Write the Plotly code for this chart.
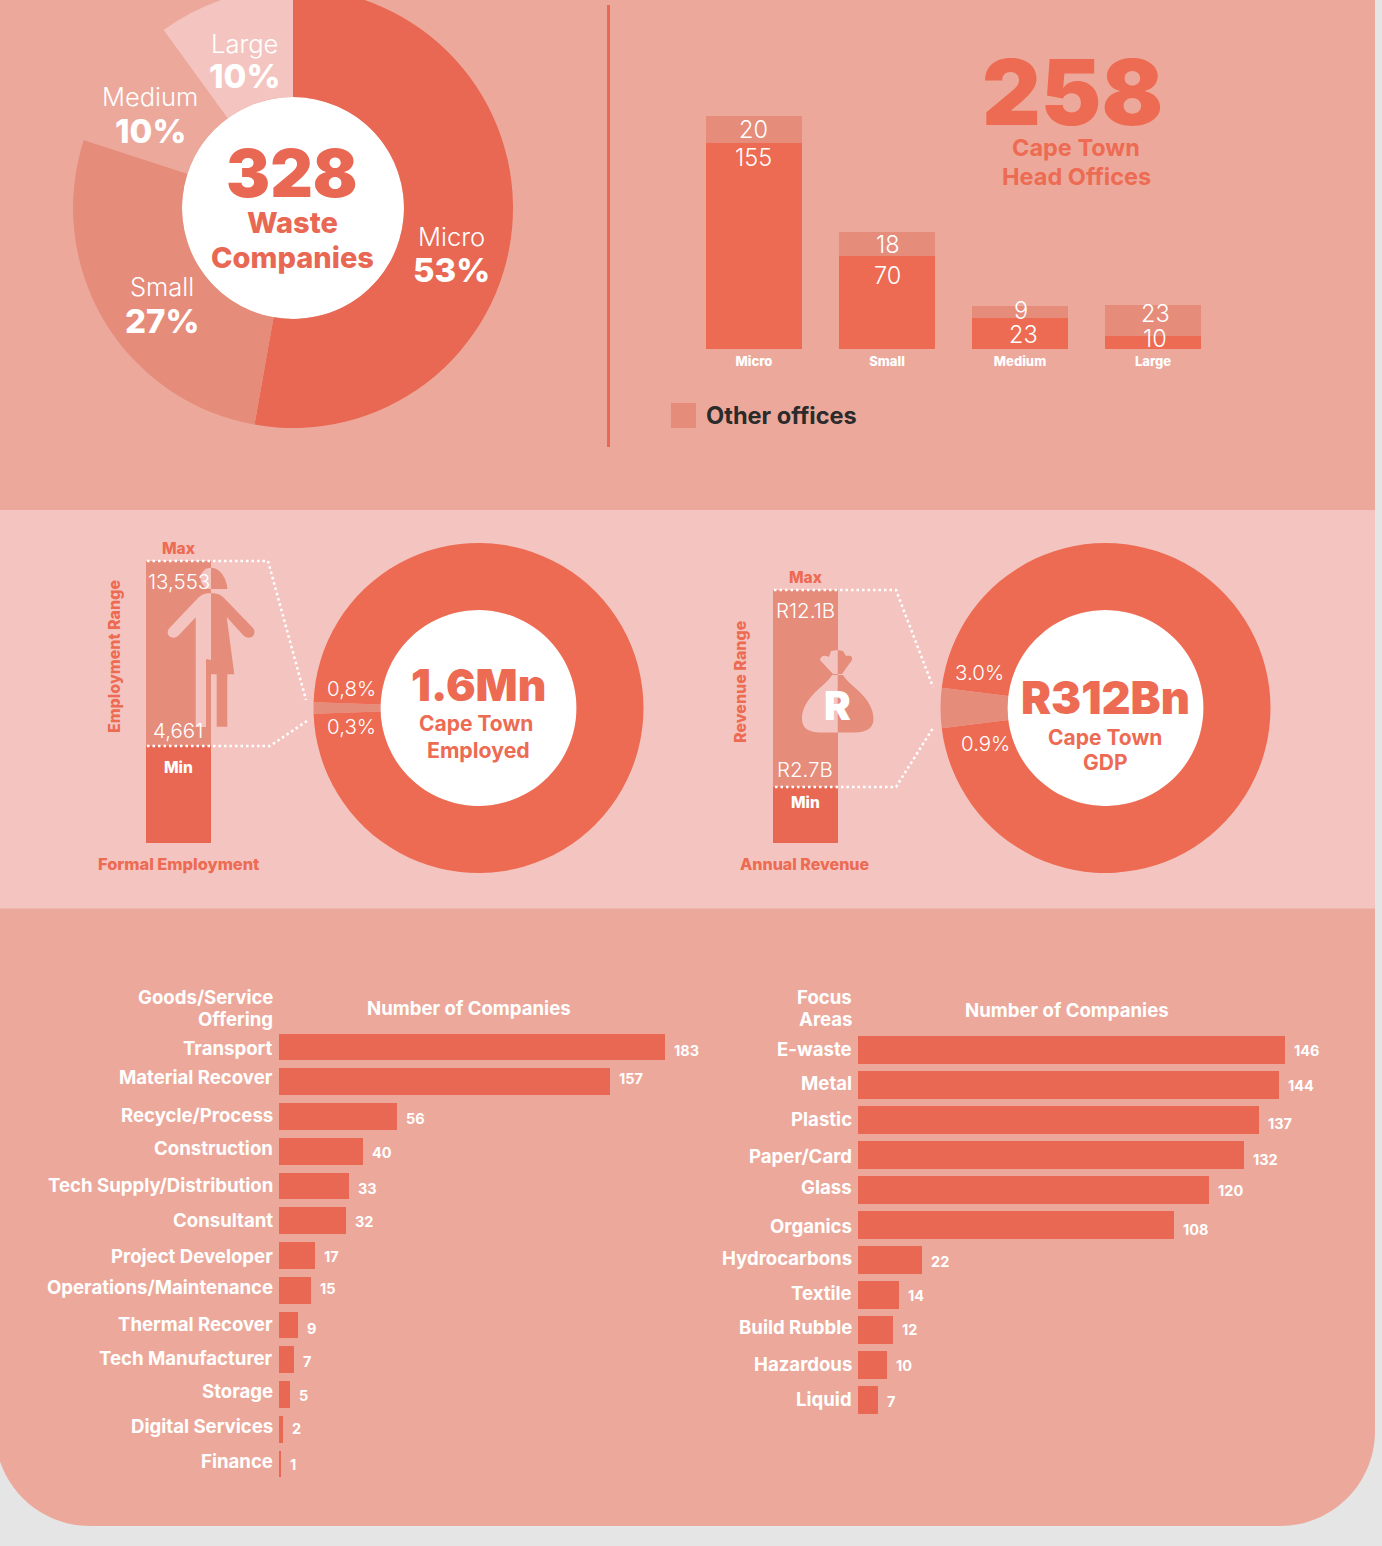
import re
import plotly.graph_objects as go

W, H0, EXTRA = 1382, 1546, 20
H = H0 + EXTRA

# ---------- data ----------
size_labels = ["Micro", "Small", "Medium", "Large"]
size_share = [52.8, 27.2, 10, 10]
total_companies = "328"

head_offices = [155, 70, 23, 10]
other_offices = [20, 18, 9, 23]
head_office_total = "258"

employment_min = 4661
employment_max = 13553
employment_share_min = 0.3
employment_share_max = 0.8
revenue_min = 2.7
revenue_max = 12.1
revenue_share_min = 0.9
revenue_share_max = 3.0

offering_labels = ["Transport", "Material Recover", "Recycle/Process", "Construction",
                   "Tech Supply/Distribution", "Consultant", "Project Developer",
                   "Operations/Maintenance", "Thermal Recover", "Tech Manufacturer",
                   "Storage", "Digital Services", "Finance"]
offering_values = [183, 157, 56, 40, 33, 32, 17, 15, 9, 7, 5, 2, 1]
focus_labels = ["E-waste", "Metal", "Plastic", "Paper/Card", "Glass", "Organics",
                "Hydrocarbons", "Textile", "Build Rubble", "Hazardous", "Liquid"]
focus_values = [146, 144, 137, 132, 120, 108, 22, 14, 12, 10, 7]

# hand-placed label nudges of the original layout, in pixels (positive = down)
offering_value_nudge = [3, -3, 1.5, 1, 2, 1, 0.5, -2, 3, 2, 0.5, -1, 0]
offering_label_nudge = [1, -4.5, -1.5, -3, -1, -0.5, 0.5, -3, -1, -1.5, -3.5, -3, -3]
focus_value_nudge = [0, 0, 3, 4, 0, 4, 1, 0, -1, 0, 1]
focus_label_nudge = [-1, -2, -1, 1, -3, 1, -2, -2, -3, -1, -1]

# ---------- style ----------
GREY = "#E5E5E5"
PANEL = "#ECA99B"
BAND = "#F4C5C0"
CORAL = "#ED6B52"
DARK = "#E86853"
MID = "#E68C7B"
WHITE = "#FFFFFF"
FONT = "Inter"


def fx(x):
    return x / W


def fy(y):
    return 1 - (y + EXTRA) / H


def path(s):
    """Pixel-space SVG path to paper-space."""
    toks = re.findall(r"[MLQCZ]|-?\d+\.?\d*", s)
    out, isx = [], True
    for t in toks:
        if t in "MLQCZ":
            out.append(t)
            isx = True
        else:
            out.append(f"{fx(float(t)):.5f}" if isx else f"{fy(float(t)):.5f}")
            isx = not isx
    return " ".join(out)


shapes, notes = [], []


def fill(s, color, layer="below"):
    shapes.append(dict(type="path", path=path(s), xref="paper", yref="paper",
                       fillcolor=color, line=dict(width=0), layer=layer))


def circle(cx, cy, r, color, layer="below"):
    shapes.append(dict(type="circle", xref="paper", yref="paper", x0=fx(cx - r), x1=fx(cx + r),
                       y0=fy(cy + r), y1=fy(cy - r), fillcolor=color, line=dict(width=0), layer=layer))


def rect(x0, y0, x1, y1, color, layer="below"):
    shapes.append(dict(type="rect", xref="paper", yref="paper", x0=fx(x0), x1=fx(x1),
                       y0=fy(y1), y1=fy(y0), fillcolor=color, line=dict(width=0), layer=layer))


def dotted(s):
    shapes.append(dict(type="path", path=path(s), xref="paper", yref="paper",
                       line=dict(color=WHITE, width=2.5, dash="2.5px,3px"), layer="above"))


def T(x, y, text, size, color=WHITE, weight=400, anchor="center", angle=0):
    notes.append(dict(x=fx(x), y=fy(y), xref="paper", yref="paper", text=text, showarrow=False,
                      xanchor=anchor, yanchor="middle", borderpad=0, borderwidth=0, textangle=angle,
                      font=dict(family=FONT, size=size, color=color, weight=weight)))


# ---------- panels ----------
k = 0.5523 * 95
fill(f"M -5 -30 L 1375 -30 L 1375 1431 C 1375 {1431 + k} {1280 + k} 1526 1280 1526 "
     f"L 90 1526 C {90 - k} 1526 -5 {1431 + k} -5 1431 Z", PANEL)
rect(0, 510, 1375, 908.5, BAND)
rect(607, 5, 610, 447, DARK)
circle(293, 208, 111, WHITE)
circle(478.5, 708, 98, WHITE)
circle(1105.5, 708, 98, WHITE)

traces = []


def domx(a, b):
    return [fx(a), fx(b)]


def domy(bottom, top):
    return [fy(bottom), fy(top)]


# ---------- pies ----------
traces.append(go.Pie(labels=size_labels, values=size_share, sort=False, direction="clockwise",
                     rotation=0, hole=111 / 220, textinfo="none", hoverinfo="label+percent",
                     marker=dict(colors=[DARK, MID, PANEL, BAND], line=dict(width=0)),
                     domain=dict(x=domx(73, 513), y=domy(428, -12)), showlegend=False))


def share_pie(lo, hi, cx, name):
    rng = lo + hi
    return go.Pie(labels=[name, "Rest"], values=[rng, 100 - rng], sort=False, direction="clockwise",
                  rotation=270 - rng * 3.6 / 2, hole=98 / 165, textinfo="none",
                  marker=dict(colors=[MID, CORAL], line=dict(width=0)),
                  domain=dict(x=domx(cx - 165, cx + 165), y=domy(873, 543)), showlegend=False)


traces.append(share_pie(employment_share_min, employment_share_max, 478.5, "Waste employment"))
traces.append(share_pie(revenue_share_min, revenue_share_max, 1105.5, "Waste revenue"))

# ---------- head-office stacked bars ----------
traces.append(go.Bar(x=size_labels, y=head_offices, name="Head offices", width=96 / 133,
                     marker=dict(color=CORAL, line=dict(width=0)), xaxis="x", yaxis="y", showlegend=False))
traces.append(go.Bar(x=size_labels, y=other_offices, name="Other offices", width=96 / 133,
                     marker=dict(color=MID, line=dict(width=0)), xaxis="x", yaxis="y", showlegend=False))

# ---------- range bars ----------
traces.append(go.Bar(x=["Formal Employment"], y=[employment_min], width=1, marker=dict(color=DARK, line=dict(width=0)),
                     xaxis="x2", yaxis="y2", showlegend=False))
traces.append(go.Bar(x=["Formal Employment"], y=[employment_max - employment_min], width=1,
                     marker=dict(color=MID, line=dict(width=0)), xaxis="x2", yaxis="y2", showlegend=False))
traces.append(go.Bar(x=["Annual Revenue"], y=[revenue_min], width=1, marker=dict(color=DARK, line=dict(width=0)),
                     xaxis="x3", yaxis="y3", showlegend=False))
traces.append(go.Bar(x=["Annual Revenue"], y=[revenue_max - revenue_min], width=1,
                     marker=dict(color=MID, line=dict(width=0)), xaxis="x3", yaxis="y3", showlegend=False))

# ---------- horizontal bars ----------
traces.append(go.Bar(y=offering_labels, x=offering_values, orientation="h", width=0.77,
                     marker=dict(color=DARK, line=dict(width=0)), xaxis="x4", yaxis="y4", showlegend=False))
traces.append(go.Bar(y=focus_labels, x=focus_values, orientation="h", width=0.8,
                     marker=dict(color=DARK, line=dict(width=0)), xaxis="x5", yaxis="y5", showlegend=False))

for cats, vals, xa, ya, vn, ln in [
        (offering_labels, offering_values, "x4", "y4", offering_value_nudge, offering_label_nudge),
        (focus_labels, focus_values, "x5", "y5", focus_value_nudge, focus_label_nudge)]:
    for c, v, dv, dl in zip(cats, vals, vn, ln):
        notes.append(dict(x=v, y=c, xref=xa, yref=ya, text=str(v), showarrow=False, xanchor="left",
                          yanchor="middle", xshift=7, yshift=-dv,
                          font=dict(family=FONT, size=14.5, color=WHITE, weight=700)))
        notes.append(dict(x=0, y=c, xref=xa, yref=ya, text=c, showarrow=False, xanchor="right",
                          yanchor="middle", xshift=-4, yshift=-dl,
                          font=dict(family=FONT, size=18.6, color=WHITE, weight=700)))

# ---------- person icon ----------
fill("M 211 567.7 C 205 567.7 200.5 572.5 200.5 578.5 C 200.5 584 205 588.5 211 589 Z", BAND, "above")
fill("M 211 567.7 C 221 567.7 227 580 227.3 589 L 211 589 Z", MID)
fill("M 211 593.3 C 204 593.3 201 595 198 598 L 169.5 628 C 166 632 168 637 172 637.5 "
     "C 175 638 177 637 179 635 L 195.7 617.3 L 195.7 727 L 206 727 L 206 660 C 206 658 208 660 211 660 Z", BAND, "above")
fill("M 211 593.3 C 218 593.3 221 595 224 598 L 253 628 C 256 632 254 637 250 637.5 "
     "C 247 638 245 637 243 635 L 226.7 617 L 234.3 674.3 L 227.3 674.3 L 227.3 726.7 L 216.7 726.7 "
     "L 216.7 674.3 L 211 674.3 Z", MID)

# ---------- money bag icon ----------
fill("M 837.7 675 L 832 675 C 826 686 802 697 802 719 C 802 729 810 732.5 820 732.5 L 837.7 732.5 Z", BAND, "above")
fill("M 837.7 675 L 843 675 C 849 686 873.5 697 873.5 719 C 873.5 729 865 732.5 855 732.5 L 837.7 732.5 Z", MID)
fill("M 837.7 674 L 833 674 L 820 660 C 821 655 825 655 829 657 L 831 651 L 837.7 650 Z", BAND, "above")
fill("M 837.7 674 L 842 674 L 852 660 C 853 656 850 655 846 656 L 843 651 L 837.7 650 Z", MID)

# ---------- dotted connectors ----------
dotted("M 147 561 L 268 561 L 306 700")
dotted("M 147 746 L 270 746 L 307 721")
dotted("M 774 590 L 896 590 L 933 687")
dotted("M 775 787 L 896 787 L 933 728")

# ---------- pie texts ----------
pie_label_pos = {"Micro": (451, 237, 270), "Small": (162, 287, 321), "Medium": (150, 97, 131), "Large": (244, 43, 76)}
for lab, share in zip(size_labels, size_share):
    x, y1, y2 = pie_label_pos[lab]
    T(x, y1, lab, 25.5, weight=300)
    T(x, y2, f"{round(share)}%", 33, weight=800)
T(292, 173, total_companies, 66, DARK, 900)
T(292, 223, "Waste", 29, DARK, 800)
T(292, 258, "Companies", 29, DARK, 800)

# ---------- head office texts ----------
T(1072, 92, head_office_total, 91, CORAL, 900)
T(1076, 147.5, "Cape Town", 23.5, CORAL, 700)
T(1076, 177, "Head Offices", 23.5, CORAL, 700)
head_label_px = [(754, 157.5), (887.5, 275), (1023, 334.5), (1154.5, 338)]
other_label_px = [(753, 129.5), (887.5, 245), (1021, 311), (1155, 313)]
for v, (x, y) in zip(head_offices, head_label_px):
    T(x, y, str(v), 23.5, weight=300)
for v, (x, y) in zip(other_offices, other_label_px):
    T(x, y, str(v), 23.5, weight=300)
rect(671, 403, 696, 428, MID)
T(706, 416, "Other offices", 23.6, "#2B2B2B", 700, anchor="left")

# ---------- employment texts ----------
T(178, 548, "Max", 15.5, CORAL, 800)
T(179, 581, f"{employment_max:,}", 20.5, weight=300)
T(178, 730, f"{employment_min:,}", 20.5, weight=300)
T(178, 767, "Min", 15.5, WHITE, 800)
T(114, 657, "Employment Range", 16, CORAL, 800, angle=-90)
T(178, 864, "Formal Employment", 16.4, CORAL, 800)
T(351, 688.5, f"{employment_share_max}%".replace(".", ","), 20.5, weight=300)
T(351, 726.5, f"{employment_share_min}%".replace(".", ","), 20.5, weight=300)
T(478, 684.5, "1.6Mn", 44, CORAL, 900)
T(476, 723.5, "Cape Town", 21, CORAL, 700)
T(478, 749.5, "Employed", 21.3, CORAL, 700)

# ---------- revenue texts ----------
T(805, 577, "Max", 15.5, CORAL, 800)
T(805, 611, f"R{revenue_max}B", 20.5, weight=300)
T(805, 769.5, f"R{revenue_min}B", 20.5, weight=300)
T(805, 802, "Min", 15.5, WHITE, 800)
T(740, 682, "Revenue Range", 16, CORAL, 800, angle=-90)
T(805, 864, "Annual Revenue", 16, CORAL, 800)
T(979.5, 673, f"{revenue_share_max:.1f}%", 20.5, weight=300)
T(985, 743, f"{revenue_share_min}%", 20.5, weight=300)
T(1105, 698, "R312Bn", 45, CORAL, 900)
T(1105, 737.5, "Cape Town", 21, CORAL, 700)
T(1105, 762.5, "GDP", 21, CORAL, 700)
T(837.5, 705, "R", 40, WHITE, 900)

# ---------- lower chart headings ----------
T(273, 997, "Goods/Service", 18.6, WHITE, 700, anchor="right")
T(273, 1019, "Offering", 18.6, WHITE, 700, anchor="right")
T(469, 1008, "Number of Companies", 18.6, WHITE, 700)
T(852, 997, "Focus", 18.6, WHITE, 700, anchor="right")
T(852, 1019, "Areas", 18.6, WHITE, 700, anchor="right")
T(1067, 1010, "Number of Companies", 18.6, WHITE, 700)

hidden = dict(visible=False, fixedrange=True)
layout = dict(
    width=W, height=H, autosize=False,
    margin=dict(l=0, r=0, t=0, b=0, pad=0),
    paper_bgcolor=GREY, plot_bgcolor="rgba(0,0,0,0)",
    barmode="stack", font=dict(family=FONT, color=WHITE),
    shapes=shapes, annotations=notes, showlegend=False,
    xaxis=dict(domain=domx(687.5, 1219.5), anchor="y", range=[-0.5, 3.5], showgrid=False, zeroline=False,
               showline=False, ticks="", ticklabelstandoff=3,
               tickfont=dict(family=FONT, size=13, color=WHITE, weight=800)),
    yaxis=dict(domain=domy(349, 83), anchor="x", range=[0, 200], **hidden),
    xaxis2=dict(domain=domx(146, 211), anchor="y2", range=[-0.5, 0.5], **hidden),
    yaxis2=dict(domain=domy(843, 561), anchor="x2", range=[0, employment_max], **hidden),
    xaxis3=dict(domain=domx(773, 838), anchor="y3", range=[-0.5, 0.5], **hidden),
    yaxis3=dict(domain=domy(843, 590), anchor="x3", range=[0, revenue_max], **hidden),
    xaxis4=dict(domain=domx(279, 279 + 2.108 * 200), anchor="y4", range=[0, 200], **hidden),
    yaxis4=dict(domain=domy(1047 + 34.75 * 12.5, 1047 - 34.75 * 0.5), anchor="x4", range=[12.5, -0.5], **hidden),
    xaxis5=dict(domain=domx(858, 858 + 2.925 * 160), anchor="y5", range=[0, 160], **hidden),
    yaxis5=dict(domain=domy(1050 + 35 * 10.5, 1050 - 35 * 0.5), anchor="x5", range=[10.5, -0.5], **hidden),
)

fig = go.Figure(traces, layout)
fig.write_html("out.html", config=dict(displayModeBar=False),
               post_script=f"document.documentElement.style.overflow='hidden';document.body.style.margin='0';"
                           f"document.body.style.overflow='hidden';"
                           f"document.querySelector('.plotly-graph-div').style.marginTop='-{EXTRA}px';")
